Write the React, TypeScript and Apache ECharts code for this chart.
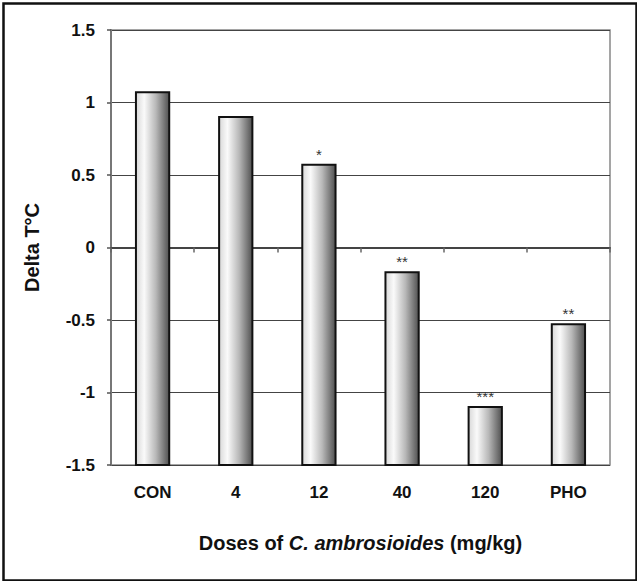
import React, { useEffect, useRef } from "react";
import * as echarts from "echarts";

const categories = ["CON", "4", "12", "40", "120", "PHO"];
const deltaT = [1.07, 0.9, 0.57, -0.17, -1.1, -0.53];
const significance = ["", "", "*", "**", "***", "**"];
const yMin = -1.5;
const yMax = 1.5;
const yStep = 0.5;

export default function App() {
  const ref = useRef<HTMLDivElement>(null);
  useEffect(() => {
    document.body.style.margin = "0";
    const chart = echarts.init(ref.current!, null, { renderer: "svg" });
    const font = "Liberation Sans, Arial, sans-serif";
    chart.setOption({
      animation: false,
      backgroundColor: "#fff",
      graphic: [
        {
          type: "rect",
          left: 1,
          top: 1,
          shape: { x: 0, y: 0, width: 633, height: 577 },
          style: { fill: "none", stroke: "#111", lineWidth: 2.5 },
          silent: true,
          z: 100,
        },
      ],
      grid: {
        left: 111,
        right: 27,
        top: 30,
        bottom: 116,
        show: true,
        borderColor: "#888",
        borderWidth: 1.5,
        backgroundColor: "transparent",
      },
      xAxis: {
        type: "category",
        data: categories,
        name: "Doses of {it|C. ambrosioides} (mg/kg)",
        nameLocation: "middle",
        nameGap: 68,
        nameTextStyle: {
          fontFamily: font,
          fontSize: 20,
          fontWeight: "bold",
          color: "#111",
          rich: {
            it: { fontFamily: font, fontSize: 20, fontWeight: "bold", fontStyle: "italic", color: "#111" },
          },
        },
        axisLine: { lineStyle: { color: "#444", width: 2 } },
        axisTick: { show: true, length: 5, lineStyle: { color: "#666", width: 1.5 } },
        axisLabel: {
          fontFamily: font,
          fontSize: 17,
          fontWeight: "bold",
          color: "#111",
          margin: 19,
        },
      },
      yAxis: {
        type: "value",
        min: yMin,
        max: yMax,
        interval: yStep,
        name: "Delta T°C",
        nameLocation: "middle",
        nameGap: 69,
        nameTextStyle: { fontFamily: font, fontSize: 20, fontWeight: "bold", color: "#111" },
        axisLine: { show: true, lineStyle: { color: "#777", width: 2 } },
        axisTick: { show: true, length: 4, lineStyle: { color: "#555", width: 1.5 } },
        axisLabel: {
          fontFamily: font,
          fontSize: 17,
          fontWeight: "bold",
          color: "#111",
          margin: 16,
          formatter: (v: number) => String(v),
        },
        splitLine: { show: true, lineStyle: { color: "#444", width: 1.2 } },
      },
      series: [
        {
          type: "custom",
          encode: { x: 0, y: 1 },
          data: deltaT.map((v, i) => [i, v]),
          renderItem: (params: any, api: any) => {
            const idx = params.dataIndex;
            const xi = api.value(0);
            const v = api.value(1);
            const top = api.coord([xi, v]);
            const base = api.coord([xi, yMin]);
            const w = api.size([1, 0])[0] * 0.4;
            return {
              type: "group",
              children: [
                {
                  type: "rect",
                  shape: { x: top[0] - w / 2, y: top[1], width: w, height: base[1] - top[1] },
                  style: {
                    fill: new echarts.graphic.LinearGradient(0, 0, 1, 0, [
                      { offset: 0, color: "#d8d8d8" },
                      { offset: 0.25, color: "#fafafa" },
                      { offset: 0.6, color: "#b8b8b8" },
                      { offset: 1, color: "#505050" },
                    ]),
                    stroke: "#111",
                    lineWidth: 2,
                  },
                },
                {
                  type: "text",
                  style: {
                    text: significance[idx],
                    x: top[0],
                    y: top[1] - 3,
                    align: "center",
                    verticalAlign: "bottom",
                    fontFamily: font,
                    fontSize: 15,
                    fill: "#333",
                  },
                },
              ],
            };
          },
        },
      ],
    });
    return () => chart.dispose();
  }, []);
  return <div ref={ref} style={{ width: 637, height: 581 }} />;
}
